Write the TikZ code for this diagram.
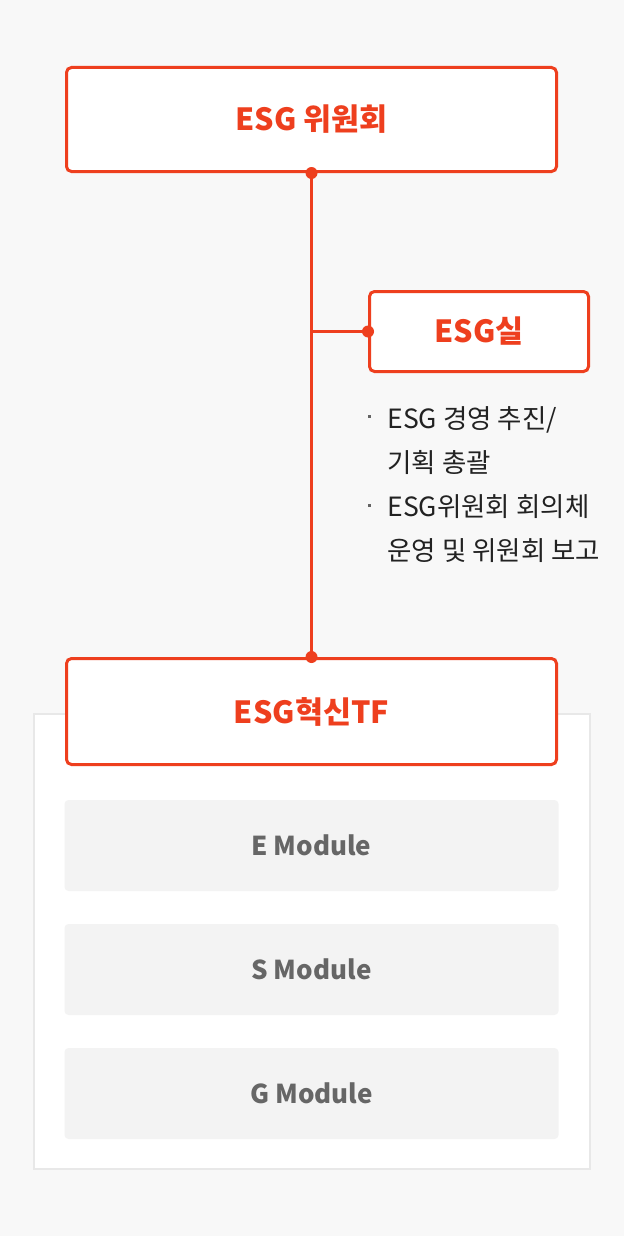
\documentclass[tikz,border=0pt]{standalone}
\usepackage{fontspec}
\setmainfont{Noto Sans CJK KR}
\usepackage{tikz}
\usetikzlibrary{positioning}
\definecolor{accent}{HTML}{EE3F1E}
\definecolor{bgcol}{HTML}{F8F8F8}
\definecolor{panelline}{HTML}{E8E8E8}
\definecolor{modfill}{HTML}{F3F3F3}
\definecolor{modtext}{HTML}{666666}
\definecolor{bodytext}{HTML}{222222}

\begin{document}
\begin{tikzpicture}[
            x = 1pt, y = -1pt, % pixel grid, y downwards
            line width = 3pt, % line style
            node distance = 33pt % distance between modules
            ]

        \tikzstyle{unit}=[
            draw = accent,
            fill = white,
            rounded corners = 5pt,
            text = accent,
            font = \bfseries\fontsize{30.5}{36}\selectfont
        ]
        \tikzstyle{module}=[
            draw = none,
            fill = modfill,
            rounded corners = 4pt,
            outer sep = 0pt,
            text = modtext,
            minimum width = 494pt,
            minimum height = 91pt,
            font = \bfseries\fontsize{26}{30}\selectfont
        ]
        \tikzstyle{duty}=[
            inner sep = 0pt,
            anchor = base west,
            text = bodytext,
            font = \fontsize{26.5}{32}\selectfont
        ]
        \tikzstyle{bulletmark}=[
            fill = bodytext!70, inner sep = 0pt, minimum size = 3pt
        ]
        \tikzstyle{joint}=[
            circle, fill = accent, inner sep = 0pt, minimum size = 12pt
        ]

        % background
        \fill[bgcol] (0,0) rectangle (624,1236);
        \useasboundingbox (0,0) rectangle (624,1236);

        % TF panel
        \draw[panelline, line width = 2pt, fill = white] (34,714) rectangle (590,1169);

	% committee level
	\node[unit, minimum width = 490pt, minimum height = 104pt] (W) at (311.5,119.5) {ESG 위원회};

        % office level
        \node[unit, minimum width = 219pt, minimum height = 80pt] (S) at (479,331.5) {ESG실};
        \node[duty] (D1) at (386,428) {ESG 경영 추진/};
        \node[duty] (D2) at (386,472) {기획 총괄};
        \node[duty] (D3) at (386,516) {ESG위원회 회의체};
        \node[duty] (D4) at (386,560) {운영 및 위원회 보고};
        \node[bulletmark] (P1) at (369,416) {};
        \node[bulletmark] (P2) at (369,505) {};

        % task force level
        \node[unit, minimum width = 490pt, minimum height = 106pt] (T) at (311.5,711.5) {ESG혁신TF};
        \node[module] (M1) [below = 34pt of T] {E Module};
        \node[module] (M2) [below = of M1] {S Module};
        \node[module] (M3) [below = of M2] {G Module};

        % links
        \coordinate (J) at (W.south |- S.west);
        \draw[accent] (W.south) -- (T.north);
        \draw[accent] (J) -- (S.west);
        \node[joint] at (W.south) {};
        \node[joint] at (T.north) {};
        \node[joint] at (S.west) {};

  \end{tikzpicture}
\end{document}
